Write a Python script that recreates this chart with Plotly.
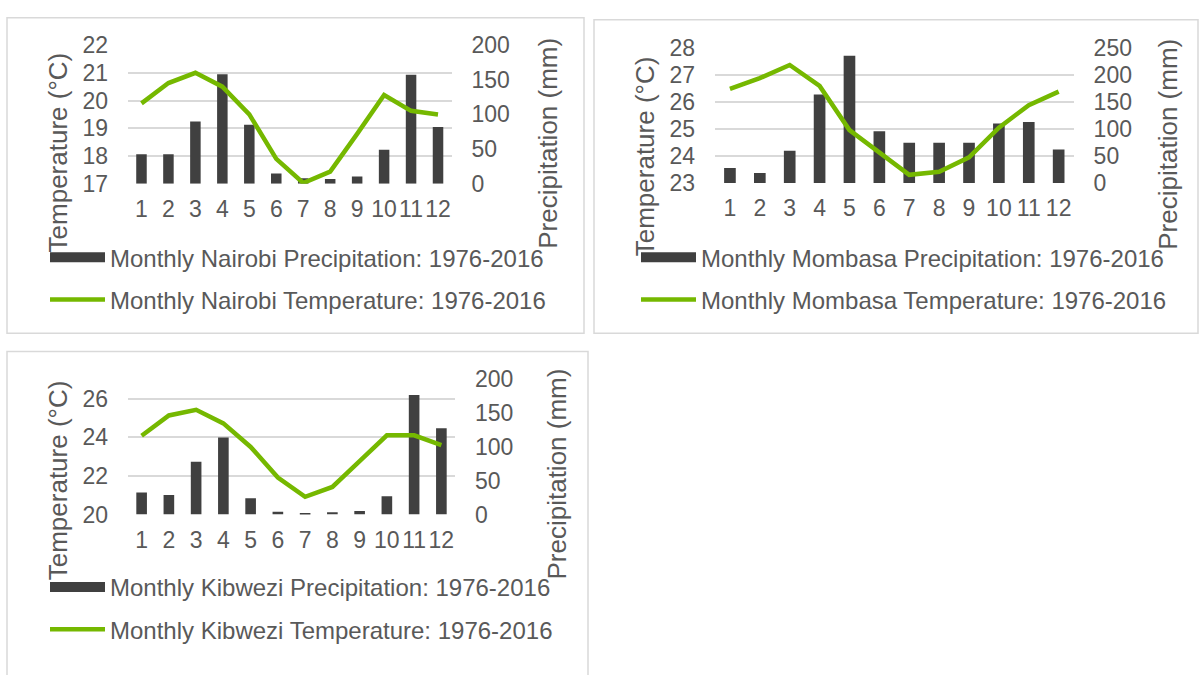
import plotly.graph_objects as go

W, H = 1203, 675

months = list(range(1, 13))
month_labels = [str(m) for m in months]

nairobi_precip = [42.5, 42.5, 90, 158, 85, 15, 8, 7, 10.5, 49, 157, 82]
nairobi_temp = [19.9, 20.63, 21.0, 20.5, 19.5, 17.9, 17.03, 17.44, 18.8, 20.2, 19.63, 19.5]

mombasa_precip = [27.5, 18.5, 59.5, 164, 236, 96, 74.5, 74.5, 74.5, 110.5, 113, 62]
mombasa_temp = [26.49, 26.89, 27.38, 26.6, 24.96, 24.13, 23.3, 23.41, 23.95, 25.05, 25.89, 26.39]

kibwezi_precip = [32.5, 29, 78, 114, 24, 4.3, 2.4, 3.3, 5.2, 27, 177, 127.5]
kibwezi_temp = [24.08, 25.13, 25.42, 24.72, 23.5, 21.92, 20.92, 21.43, 22.77, 24.1, 24.1, 23.6]

BAR = "#404040"
GREEN = "#75b800"
TXT = "#595959"
GRID = "#d9d9d9"
FONT = "Liberation Sans, Arial, sans-serif"


def px_x(p):
    return p / W


def px_y(p):
    return 1 - p / H


panels = [
    dict(name="Nairobi", precip=nairobi_precip, temp=nairobi_temp,
         xdom=(128, 451.5), ytop=33.3, ybot=177.7, trange=(17, 22), tticks=[17, 18, 19, 20, 21, 22],
         prange=(0, 200), pticks=[0, 50, 100, 150, 200],
         box=(7, 5, 584, 333), ltitle=(58, 145), rtitle=(548, 136), legend=(45, 231)),
    dict(name="Mombasa", precip=mombasa_precip, temp=mombasa_temp,
         xdom=(715, 1073.6), ytop=36.7, ybot=176.7, trange=(23, 28), tticks=[23, 24, 25, 26, 27, 28],
         prange=(0, 250), pticks=[0, 50, 100, 150, 200, 250],
         box=(594, 7, 1198, 333), ltitle=(645, 149), rtitle=(1168, 137), legend=(636, 231)),
    dict(name="Kibwezi", precip=kibwezi_precip, temp=kibwezi_temp,
         xdom=(128, 455), ytop=381, ybot=521.7, trange=(20, 27), tticks=[20, 22, 24, 26],
         prange=(0, 200), pticks=[0, 50, 100, 150, 200],
         box=(7, 352, 588, 690), ltitle=(58, 486), rtitle=(557, 480), legend=(45, 574)),
]

fig = go.Figure()
layout = dict(
    width=W, height=H, margin=dict(l=0, r=0, t=0, b=0),
    paper_bgcolor="white", plot_bgcolor="rgba(0,0,0,0)",
    font=dict(family=FONT, color=TXT, size=23),
    shapes=[], annotations=[],
)

for i, p in enumerate(panels):
    k = i + 1
    xa = "x" if k == 1 else f"x{k}"
    yb_idx = 2 * k - 1   # precipitation (base, right side)
    yt_idx = 2 * k       # temperature (overlay, left side)
    yb = "y" if yb_idx == 1 else f"y{yb_idx}"
    yt = f"y{yt_idx}"
    leg = "legend" if k == 1 else f"legend{k}"
    ydom = [px_y(p["ybot"]), px_y(p["ytop"])]
    pname = f"Monthly {p['name']} Precipitation: 1976-2016"

    fig.add_trace(go.Bar(
        x=months, y=p["precip"], xaxis=xa, yaxis=yb, width=0.39,
        marker=dict(color=BAR, line=dict(width=0)),
        name=pname, legend=leg, legendgroup=f"p{k}", showlegend=False,
    ))
    # legend key for the precipitation bars (wide dark swatch, as in the original)
    fig.add_trace(go.Scatter(
        x=[None], y=[None], xaxis=xa, yaxis=yb, mode="lines",
        line=dict(color=BAR, width=13), hoverinfo="skip",
        name=pname, legend=leg, legendgroup=f"p{k}", showlegend=True,
    ))
    fig.add_trace(go.Scatter(
        x=months, y=p["temp"], xaxis=xa, yaxis=yt, mode="lines",
        line=dict(color=GREEN, width=4.5),
        name=f"Monthly {p['name']} Temperature: 1976-2016",
        legend=leg, legendgroup=f"t{k}", showlegend=True,
    ))

    xkey = "xaxis" if k == 1 else f"xaxis{k}"
    ybkey = "yaxis" if yb_idx == 1 else f"yaxis{yb_idx}"
    ytkey = f"yaxis{yt_idx}"
    layout[xkey] = dict(
        domain=[px_x(p["xdom"][0]), px_x(p["xdom"][1])], anchor=yb,
        range=[0.5, 12.5], tickvals=months, ticktext=month_labels,
        showgrid=False, zeroline=False, showline=False, ticks="",
        ticklabelstandoff=9, tickfont=dict(size=23, color=TXT),
    )
    layout[ybkey] = dict(
        domain=ydom, anchor=xa, side="right", range=list(p["prange"]),
        tickvals=p["pticks"], showgrid=False, zeroline=False, showline=False,
        ticks="", ticklabelstandoff=19, tickfont=dict(size=23, color=TXT),
    )
    layout[ytkey] = dict(
        domain=ydom, anchor=xa, overlaying=yb, side="left", range=list(p["trange"]),
        tickvals=p["tticks"], showgrid=True, gridcolor=GRID, gridwidth=1.6,
        zeroline=False, showline=False, ticks="", ticklabelstandoff=19,
        tickfont=dict(size=23, color=TXT),
    )
    layout[leg] = dict(
        x=px_x(p["legend"][0]), y=px_y(p["legend"][1]), xanchor="left", yanchor="top",
        bgcolor="rgba(0,0,0,0)", font=dict(size=24, color=TXT, family=FONT),
        traceorder="grouped", tracegroupgap=8, itemwidth=55, orientation="v",
    )
    bx0, by0, bx1, by1 = p["box"]
    layout["shapes"].append(dict(
        type="rect", xref="paper", yref="paper",
        x0=px_x(bx0), x1=px_x(bx1), y0=px_y(by1), y1=px_y(by0),
        line=dict(color=GRID, width=1.5), fillcolor="rgba(0,0,0,0)", layer="below",
    ))
    layout["annotations"].append(dict(
        text="Temperature (°C)", xref="paper", yref="paper",
        x=px_x(p["ltitle"][0]), y=px_y(p["ltitle"][1]), xanchor="center", yanchor="middle",
        textangle=-90, showarrow=False, font=dict(size=26, color=TXT, family=FONT),
    ))
    layout["annotations"].append(dict(
        text="Precipitation (mm)", xref="paper", yref="paper",
        x=px_x(p["rtitle"][0]), y=px_y(p["rtitle"][1]), xanchor="center", yanchor="middle",
        textangle=-90, showarrow=False, font=dict(size=26, color=TXT, family=FONT),
    ))

fig.update_layout(**layout)
fig.write_html("out.html", config={"displayModeBar": False},
               post_script="document.body.style.margin='0px';")
